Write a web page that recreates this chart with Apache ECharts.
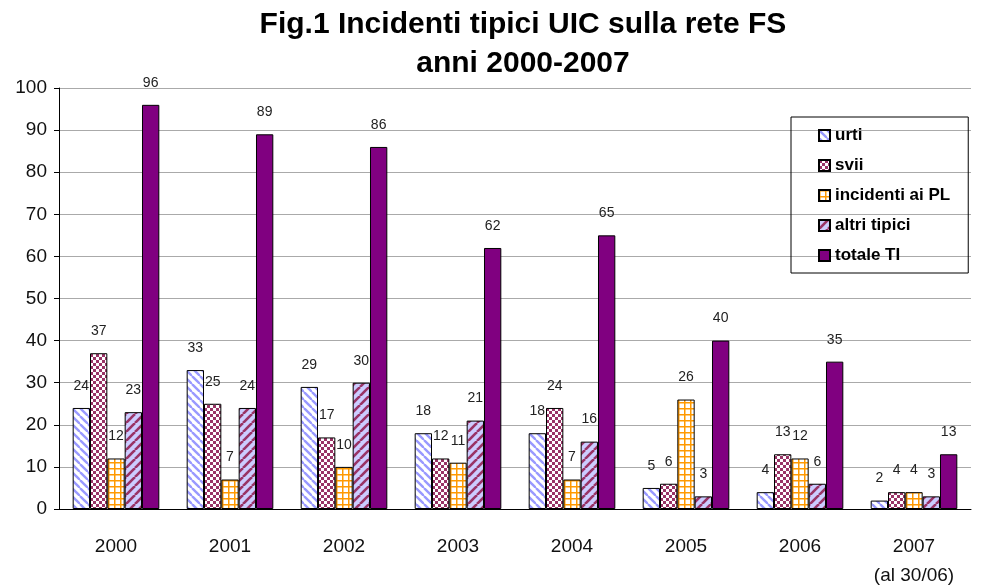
<!DOCTYPE html>
<html>
<head>
<meta charset="UTF-8">
<script src="https://cdn.jsdelivr.net/npm/echarts@6/dist/echarts.min.js"></script>
<style>html,body{margin:0;padding:0;background:#fff}#c{width:985px;height:587px}</style>
</head>
<body>
<div id="c"></div>
<script>
// dati
const anni = ['2000', '2001', '2002', '2003', '2004', '2005', '2006', '2007']
const urti = [24, 33, 29, 18, 18, 5, 4, 2]
const svii = [37, 25, 17, 12, 24, 6, 13, 4]
const incidentiPL = [12, 7, 10, 11, 7, 26, 12, 4]
const altriTipici = [23, 24, 30, 21, 16, 3, 6, 3]
const totaleTI = [96, 89, 86, 62, 65, 40, 35, 13]
const yTicks = [0, 10, 20, 30, 40, 50, 60, 70, 80, 90, 100]

// pattern di riempimento stile Excel
function tile(size, draw) {
  const cv = document.createElement('canvas')
  cv.width = size
  cv.height = size
  draw(cv.getContext('2d'), size)
  return { image: cv, repeat: 'repeat' }
}
const pUrti = tile(8, (g, s) => {
  g.fillStyle = '#fff'; g.fillRect(0, 0, s, s)
  g.strokeStyle = '#9999ff'; g.lineWidth = 2.4
  for (let k = -s; k <= s; k += s) {
    g.beginPath(); g.moveTo(k, 0); g.lineTo(k + s, s); g.stroke()
  }
})
const pSvii = tile(6, (g, s) => {
  g.fillStyle = '#fff'; g.fillRect(0, 0, s, s)
  g.fillStyle = '#993366'
  g.fillRect(0, 0, 3, 3); g.fillRect(3, 3, 3, 3)
})
const pPL = tile(6, (g, s) => {
  g.fillStyle = '#fff'; g.fillRect(0, 0, s, s)
  g.fillStyle = '#ff9900'
  g.fillRect(0, 0, s, 1.5); g.fillRect(0, 0, 1.5, s)
})
const pAltri = tile(9, (g, s) => {
  g.fillStyle = '#ccccff'; g.fillRect(0, 0, s, s)
  g.strokeStyle = '#993366'; g.lineWidth = 2.6
  for (let k = -s; k <= 2 * s; k += s) {
    g.beginPath(); g.moveTo(k, s); g.lineTo(k + s, 0); g.stroke()
  }
})

const font = 'Liberation Sans, Arial, sans-serif'
function serie(name, data, fill) {
  return {
    name, type: 'bar', data,
    barGap: '0%', barCategoryGap: '24%',
    itemStyle: { color: fill, borderColor: '#000', borderWidth: 1 },
    label: { show: true, position: 'top', distance: 15, color: '#222', fontSize: 14, fontFamily: font }
  }
}

const chart = echarts.init(document.getElementById('c'))
chart.setOption({
  animation: false,
  title: {
    text: 'Fig.1 Incidenti tipici UIC sulla rete FS\nanni 2000-2007',
    left: 518, textAlign: 'center', top: 0,
    textStyle: { fontFamily: font, fontSize: 30, fontWeight: 'bold', color: '#000', lineHeight: 39 }
  },
  legend: {
    orient: 'vertical', left: 791, top: 117,
    padding: [10, 18, 9, 27], itemGap: 13,
    borderColor: '#000', borderWidth: 1,
    icon: 'rect', itemWidth: 11, itemHeight: 11,
    textStyle: { fontFamily: font, fontSize: 17, fontWeight: 'bold', color: '#000' }
  },
  grid: { left: 59, right: 14, top: 88, bottom: 78, outerBoundsMode: 'none', containLabel: false },
  xAxis: {
    type: 'category', data: anni,
    axisLine: { lineStyle: { color: '#000' } },
    axisTick: { length: 7, lineStyle: { color: '#000' } },
    axisLabel: {
      fontFamily: font, fontSize: 19, color: '#111', margin: 23, lineHeight: 29,
      formatter: v => v === '2007' ? '2007\n(al 30/06)' : v
    }
  },
  yAxis: {
    type: 'value', min: yTicks[0], max: yTicks[yTicks.length - 1], interval: 10,
    axisLine: { show: true, lineStyle: { color: '#000' } },
    axisTick: { show: true, length: 5, lineStyle: { color: '#000' } },
    axisLabel: { fontFamily: font, fontSize: 19, color: '#111', margin: 12 },
    splitLine: { lineStyle: { color: '#aaa' } }
  },
  series: [
    serie('urti', urti, pUrti),
    serie('svii', svii, pSvii),
    serie('incidenti ai PL', incidentiPL, pPL),
    serie('altri tipici', altriTipici, pAltri),
    serie('totale TI', totaleTI, '#800080')
  ]
})
</script>
</body>
</html>
